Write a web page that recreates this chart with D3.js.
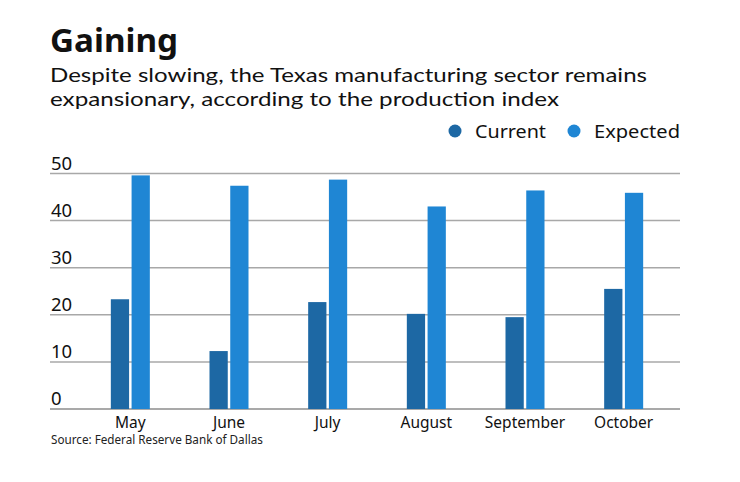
<!DOCTYPE html>
<html>
<head>
<meta charset="utf-8">
<script src="https://cdn.jsdelivr.net/npm/d3@7"></script>
<style>
  body { margin: 0; background: #fff; }
  svg text { font-family: "Noto Sans", Lato, sans-serif; fill: #111; }
  svg .subtitle text { font-family: Lato, "Noto Sans", sans-serif; }
</style>
</head>
<body>
<div id="chart"></div>
<script>
// chart data
const months = ["May", "June", "July", "August", "September", "October"];
const current = [23.3, 12.3, 22.7, 20.2, 19.5, 25.5];
const expected = [49.6, 47.4, 48.7, 43.0, 46.4, 45.9];
const seriesNames = ["Current", "Expected"];
const yTicks = [0, 10, 20, 30, 40, 50];
const subtitleLines = [
  "Despite slowing, the Texas manufacturing sector remains",
  "expansionary, according to the production index",
];

const colors = { Current: "#1d68a4", Expected: "#1f86d4" };

const width = 740;
const height = 482;

const rows = months.map((m, i) => ({ month: m, Current: current[i], Expected: expected[i] }));

const svg = d3
  .select("#chart")
  .append("svg")
  .attr("width", width)
  .attr("height", height);

// titles (reference font is wider than Noto, so stretch a bit)
svg.append("text")
  .attr("x", 50)
  .attr("y", 52)
  .style("font-size", "32px")
  .style("font-weight", "bold")
  .attr("textLength", 128)
  .attr("lengthAdjust", "spacingAndGlyphs")
  .text("Gaining");

// subtitle wrapped on two lines
const subLens = [597, 509];
const subY = [82, 106];
svg.append("g")
  .attr("class", "subtitle")
  .selectAll("text")
  .data(subtitleLines)
  .join("text")
  .attr("x", 50)
  .attr("y", (d, i) => subY[i])
  .style("font-size", "20px")
  .attr("textLength", (d, i) => subLens[i])
  .attr("lengthAdjust", "spacingAndGlyphs")
  .text((d) => d);

// legend
const legendX = { Current: 455, Expected: 574 };
const legendW = { Current: 71, Expected: 86 };
const legend = svg.append("g").attr("class", "legend");
seriesNames.forEach((name) => {
  legend.append("circle")
    .attr("cx", legendX[name])
    .attr("cy", 131)
    .attr("r", 6.5)
    .attr("fill", colors[name]);
  legend.append("text")
    .attr("x", legendX[name] + 20)
    .attr("y", 138)
    .style("font-size", "18.5px")
    .attr("textLength", legendW[name])
    .attr("lengthAdjust", "spacingAndGlyphs")
    .text(name);
});

// scales
const yScale = d3.scaleLinear().domain([0, 50]).range([409, 173.5]);

const x0 = d3.scaleBand().domain(months).range([81, 673]);

const x1 = d3
  .scaleBand()
  .domain(seriesNames)
  .range([x0.bandwidth() / 2 - 19.5, x0.bandwidth() / 2 + 19.5])
  .paddingInner(0.12);

// gridlines
const grid = svg.append("g").attr("class", "gridlines");
grid.selectAll("line")
  .data(yTicks)
  .join("line")
  .attr("x1", 50)
  .attr("x2", 680)
  .attr("y1", (d) => yScale(d))
  .attr("y2", (d) => yScale(d))
  .attr("stroke", (d) => (d === 0 ? "#8c8c8c" : "#a8a8a8"))
  .attr("stroke-width", 1.5);

grid.selectAll("text")
  .data(yTicks)
  .join("text")
  .attr("x", 51)
  .attr("y", (d) => yScale(d) - 4)
  .style("font-size", "18.5px")
  .text((d) => d);

// bars
const groups = svg.append("g")
  .attr("class", "bars")
  .selectAll("g")
  .data(rows)
  .join("g")
  .attr("transform", (d) => `translate(${x0(d.month)},0)`);

groups.selectAll("rect")
  .data((d) => seriesNames.map((key) => ({ key, value: d[key] })))
  .join("rect")
  .attr("x", (d) => x1(d.key))
  .attr("width", x1.bandwidth())
  .attr("y", (d) => yScale(d.value))
  .attr("height", (d) => yScale(0) - yScale(d.value))
  .attr("fill", (d) => colors[d.key]);

// x axis labels
svg.append("g")
  .attr("class", "x-labels")
  .selectAll("text")
  .data(months)
  .join("text")
  .attr("x", (d) => x0(d) + x0.bandwidth() / 2)
  .attr("y", 428)
  .attr("text-anchor", "middle")
  .style("font-size", "15.5px")
  .text((d) => d);

// source
svg.append("text")
  .attr("x", 51)
  .attr("y", 444)
  .style("font-size", "11.7px")
  .style("fill", "#222")
  .text("Source: Federal Reserve Bank of Dallas");
</script>
</body>
</html>
